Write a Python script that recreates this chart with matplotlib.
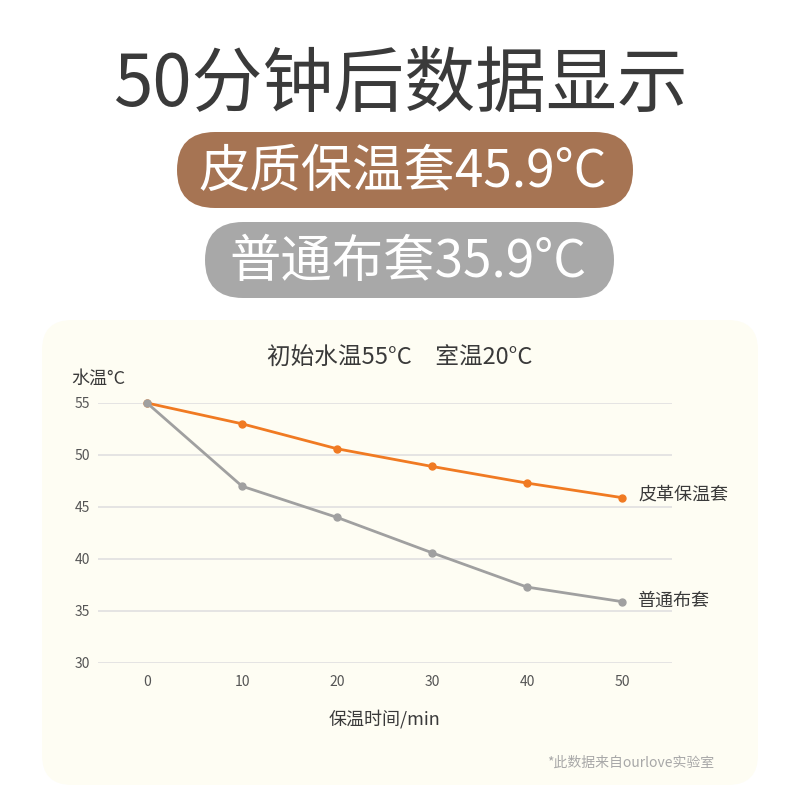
import matplotlib
matplotlib.use("Agg")
import matplotlib.pyplot as plt
from matplotlib.patches import FancyBboxPatch

plt.rcParams['font.family'] = ['Noto Sans CJK SC', 'DejaVu Sans']

# data
minutes = [0, 10, 20, 30, 40, 50]
leather = [55, 53, 50.6, 48.9, 47.3, 45.9]
cloth = [55, 47, 44, 40.6, 37.3, 35.9]
y_ticks = [30, 35, 40, 45, 50, 55]
series_names = ["皮革保温套", "普通布套"]

headline = "50分钟后数据显示"
pill_texts = ["皮质保温套45.9°C", "普通布套35.9°C"]
chart_title = "初始水温55°C\u3000室温20°C"
y_label = "水温°C"
x_label = "保温时间/min"
footnote = "*此数据来自ourlove实验室"

W = H = 800


def fx(x):
    return x / W


def fy(y):
    return 1 - y / H


def add_box(fig, x0, y0, x1, y1, r, color):
    box = FancyBboxPatch((fx(x0) + r / W, fy(y1) + r / H),
                         (x1 - x0 - 2 * r) / W, (y1 - y0 - 2 * r) / H,
                         boxstyle="round,pad=%f" % (r / W),
                         transform=fig.transFigure, facecolor=color,
                         edgecolor="none", zorder=0)
    fig.patches.append(box)


fig = plt.figure(figsize=(8, 8), dpi=100)
fig.patch.set_facecolor("white")

# headline and pills
fig.text(fx(400), fy(86), headline, fontsize=51, color="#3a3a3a",
         ha="center", va="center")
add_box(fig, 177, 132, 633, 208, 38, "#a67453")
add_box(fig, 205, 222, 614, 298, 38, "#a8a8a8")
fig.text(fx(403), fy(172), pill_texts[0], fontsize=37, color="white",
         ha="center", va="center")
fig.text(fx(408), fy(262), pill_texts[1], fontsize=37, color="white",
         ha="center", va="center")

# cream panel
add_box(fig, 42, 320, 758, 785, 30, "#fefdf3")

fig.text(fx(400), fy(358), chart_title, fontsize=17, color="#3a3a3a",
         ha="center", va="center")
fig.text(fx(71), fy(379), y_label, fontsize=13, color="#3a3a3a",
         ha="left", va="center")
fig.text(fx(384), fy(719), x_label, fontsize=13, color="#3a3a3a",
         ha="center", va="center")
fig.text(fx(714), fy(763), footnote, fontsize=10, color="#a8a8a8",
         ha="right", va="center")

# chart
ax = fig.add_axes([fx(98), fy(663), (672 - 98) / W, (663 - 403) / H])
ax.set_zorder(2)
ax.set_facecolor("none")
ax.set_xlim(-5.16, 55.26)
ax.set_ylim(30, 55)
ax.set_yticks(y_ticks)
ax.set_xticks(minutes)
ax.grid(axis="y", color="#e0e0e0", linewidth=1.2)
ax.set_axisbelow(True)
for s in ax.spines.values():
    s.set_visible(False)
ax.tick_params(length=0, labelsize=10, labelcolor="#555555")
ax.tick_params(axis="x", pad=9)
ax.tick_params(axis="y", pad=6)

ax.plot(minutes, leather, color="#f07a22", linewidth=2, marker="o",
        markersize=5, clip_on=False, zorder=3)
ax.plot(minutes, cloth, color="#a0a0a0", linewidth=2, marker="o",
        markersize=5, clip_on=False, zorder=3)

ax.annotate(series_names[0], (minutes[-1], leather[-1]), xytext=(12, 2),
            textcoords="offset points", fontsize=13, color="#3a3a3a",
            ha="left", va="center")
ax.annotate(series_names[1], (minutes[-1], cloth[-1]), xytext=(11, 1),
            textcoords="offset points", fontsize=13, color="#3a3a3a",
            ha="left", va="center")

fig.savefig("out.png", dpi=100, facecolor="white")
